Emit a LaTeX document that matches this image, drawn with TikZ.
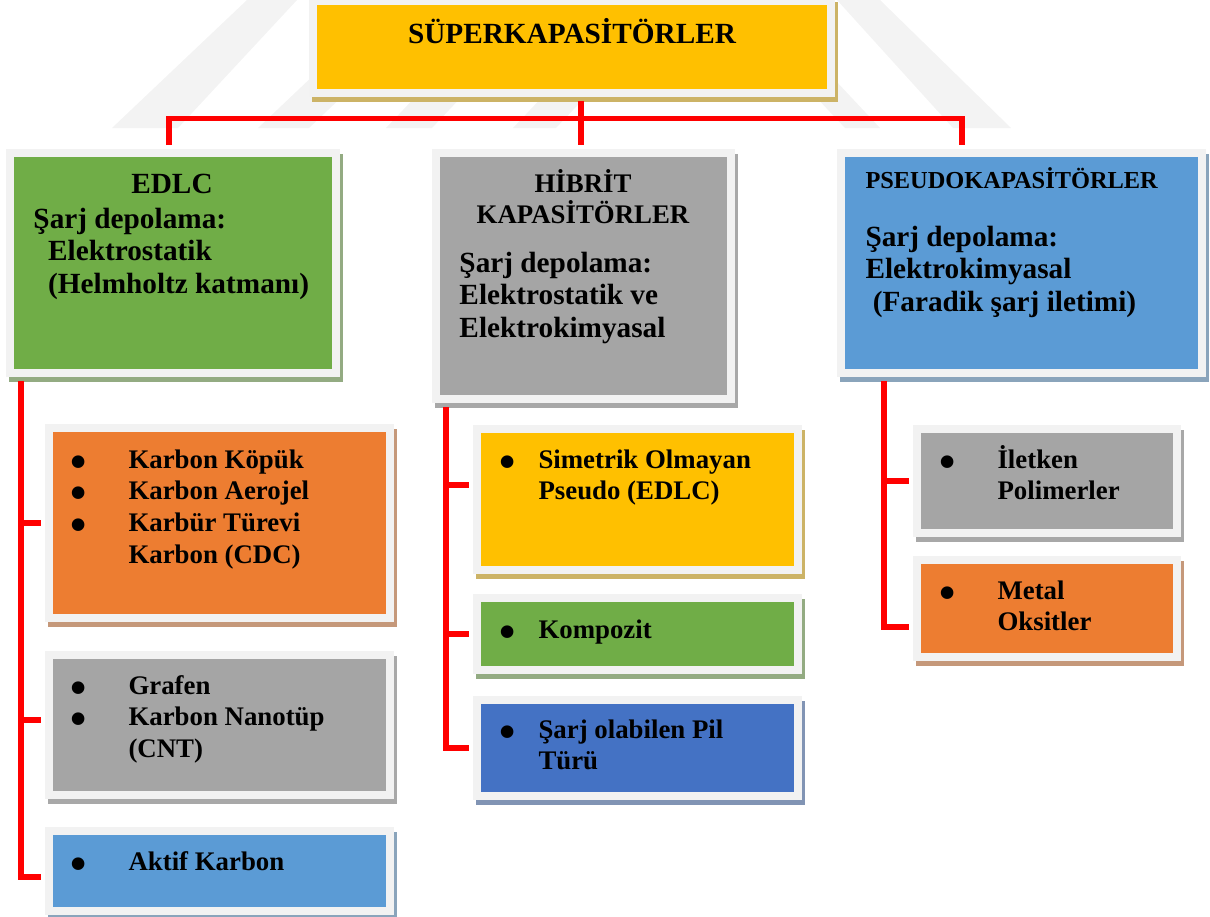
\documentclass[tikz,border=0pt]{standalone}
\usepackage{fontspec}
\setmainfont{Liberation Serif}
\usepackage{xcolor}
\usetikzlibrary{shadows}

\definecolor{capyellow}{HTML}{FFC000}
\definecolor{capgreen}{HTML}{70AD47}
\definecolor{capgray}{HTML}{A5A5A5}
\definecolor{capblue}{HTML}{5B9BD5}
\definecolor{caporange}{HTML}{ED7D31}
\definecolor{capdarkblue}{HTML}{4472C4}
\definecolor{framegray}{HTML}{F2F2F2}
\definecolor{shadowgray}{RGB}{170,170,170}
\definecolor{linkred}{HTML}{FF0000}
\definecolor{wmark}{RGB}{243,243,243}

\newcommand{\capbullet}{\smash{\raisebox{-3.7pt}{\fontsize{19}{15}\selectfont\textbullet}}}

\tikzset{
    capbox/.style={
        rectangle,
        draw=framegray,
        line width=3.28pt,
        fill=#1,
        inner sep=0pt,
        drop shadow={shadow xshift=1.23pt, shadow yshift=-2.05pt,
            fill=#1!40!shadowgray, draw=#1!40!shadowgray,
            line width=3.28pt, opacity=1}
    },
    boxsize/.style 2 args={
        minimum width=#1*0.41pt,
        minimum height=#2*0.41pt
    },
    headtext/.style={
        font=\fontsize{12}{13.4}\selectfont\bfseries,
        inner sep=0pt
    },
    subtext/.style={
        font=\fontsize{11}{12.3}\selectfont\bfseries,
        inner sep=0pt
    },
    pseudotext/.style={
        font=\fontsize{10}{12}\selectfont\bfseries,
        inner sep=0pt
    },
    itemtext/.style={
        font=\fontsize{11}{13}\selectfont\bfseries,
        inner sep=0pt,
        anchor=base west
    },
    link/.style={
        draw=linkred,
        line width=2.2pt,
        shorten <=1.64pt,
        shorten >=1.64pt
    }
}

\begin{document}
\begin{tikzpicture}[x=0.41pt, y=-0.41pt]
\useasboundingbox (0,0) rectangle (1210,916);

% Watermark
\fill[wmark] (112,128) -- (178,128) -- (297,0) -- (247,0) -- cycle;
\fill[wmark] (258,128) -- (309,128) -- (444,0) -- (393,0) -- cycle;
\fill[wmark] (386,128) -- (432,128) -- (500,56) -- (454,56) -- cycle;
\fill[wmark] (513,128) -- (556,128) -- (624,56) -- (581,56) -- cycle;
\fill[wmark] (845,128) -- (880,128) -- (760,0) -- (725,0) -- cycle;
\fill[wmark] (953,128) -- (1011,128) -- (880,0) -- (837,0) -- cycle;

% Top box
\node[capbox=capyellow, boxsize={518}{92}] (super) at (572,47) {};

% Second level
\node[capbox=capgreen, boxsize={326}{220}] (edlc) at (173,263) {};
\node[capbox=capgray, boxsize={295}{246}] (hibrit) at (583.5,276) {};
\node[capbox=capblue, boxsize={361}{220}] (pseudo) at (1021.5,263) {};

% EDLC materials
\node[capbox=caporange, boxsize={341}{190}] (karbon) at (219.5,523) {};
\node[capbox=capgray, boxsize={341}{140}] (grafen) at (219.5,725) {};
\node[capbox=capblue, boxsize={341}{80}] (aktif) at (219.5,871) {};

% Hybrid materials
\node[capbox=capyellow, boxsize={321}{141}] (simetrik) at (637.5,499.5) {};
\node[capbox=capgreen, boxsize={321}{72}] (kompozit) at (637.5,634) {};
\node[capbox=capdarkblue, boxsize={321}{96}] (pil) at (637.5,748) {};

% Pseudo materials
\node[capbox=capgray, boxsize={260}{104}] (iletken) at (1047,481) {};
\node[capbox=caporange, boxsize={260}{97}] (metal) at (1047,608.5) {};

% Texts
\node[headtext, anchor=base] (supertxt) at (572,43) {SÜPERKAPASİTÖRLER};

\node[headtext, anchor=base] (edlchead) at (172,193) {EDLC};
\node[headtext, anchor=base west] (edlctxt) at (33,228) {\begin{tabular}[t]{@{}l@{}}
Şarj depolama:\\
\hspace*{6pt}Elektrostatik\\
\hspace*{6pt}(Helmholtz katmanı)
\end{tabular}};

\node[subtext, anchor=base] (hibrithead) at (583,192) {\begin{tabular}[t]{@{}c@{}}
HİBRİT\\
KAPASİTÖRLER
\end{tabular}};
\node[headtext, anchor=base west] (hibrittxt) at (459,272) {\begin{tabular}[t]{@{}l@{}}
Şarj depolama:\\
Elektrostatik ve\\
Elektrokimyasal
\end{tabular}};

\node[pseudotext, anchor=base west] (pseudohead) at (865,188) {PSEUDOKAPASİTÖRLER};
\node[headtext, anchor=base west] (pseudotxt) at (865,246) {\begin{tabular}[t]{@{}l@{}}
Şarj depolama:\\
Elektrokimyasal\\
\hspace*{3pt}(Faradik şarj iletimi)
\end{tabular}};

\node[itemtext] (karbontxt) at (70,468) {\begin{tabular}[t]{@{}p{23.8pt}@{}l@{}}
\capbullet & Karbon Köpük\\
\capbullet & Karbon Aerojel\\
\capbullet & Karbür Türevi\\
 & Karbon (CDC)
\end{tabular}};
\node[itemtext] (grafentxt) at (70,694) {\begin{tabular}[t]{@{}p{23.8pt}@{}l@{}}
\capbullet & Grafen\\
\capbullet & Karbon Nanotüp\\
 & (CNT)
\end{tabular}};
\node[itemtext] (aktiftxt) at (70,870) {\begin{tabular}[t]{@{}p{23.8pt}@{}l@{}}
\capbullet & Aktif Karbon
\end{tabular}};

\node[itemtext] (simetriktxt) at (499,468) {\begin{tabular}[t]{@{}p{16pt}@{}l@{}}
\capbullet & Simetrik Olmayan\\
 & Pseudo (EDLC)
\end{tabular}};
\node[itemtext] (kompozittxt) at (499,638) {\begin{tabular}[t]{@{}p{16pt}@{}l@{}}
\capbullet & Kompozit
\end{tabular}};
\node[itemtext] (piltxt) at (499,738) {\begin{tabular}[t]{@{}p{16pt}@{}l@{}}
\capbullet & Şarj olabilen Pil\\
 & Türü
\end{tabular}};

\node[itemtext] (iletkentxt) at (939,468) {\begin{tabular}[t]{@{}p{23.8pt}@{}l@{}}
\capbullet & İletken\\
 & Polimerler
\end{tabular}};
\node[itemtext] (metaltxt) at (939,599) {\begin{tabular}[t]{@{}p{23.8pt}@{}l@{}}
\capbullet & Metal\\
 & Oksitler
\end{tabular}};

% Connectors
\coordinate (busl) at (169,118.5);
\coordinate (busm) at (581,118.5);
\coordinate (busr) at (962,118.5);
\coordinate (spl) at (21,0);
\coordinate (spm) at (446,0);
\coordinate (spr) at (884,0);

\draw[link] (super.south -| busm) -- (hibrit.north -| busm);
\draw[link] (edlc.north -| busl) |- (busr) -- (pseudo.north -| busr);

\draw[link] (edlc.south -| spl) |- (karbon.west);
\draw[link] (edlc.south -| spl) |- ([yshift=2.05pt]grafen.west);
\draw[link] (edlc.south -| spl) |- ([yshift=-2.46pt]aktif.west);

\draw[link] (hibrit.south -| spm) |- ([yshift=5.95pt]simetrik.west);
\draw[link] (hibrit.south -| spm) |- (kompozit.west);
\draw[link] (hibrit.south -| spm) |- (pil.west);

\draw[link] (pseudo.south -| spr) |- (iletken.west);
\draw[link] (pseudo.south -| spr) |- ([yshift=-7.59pt]metal.west);

\end{tikzpicture}
\end{document}
